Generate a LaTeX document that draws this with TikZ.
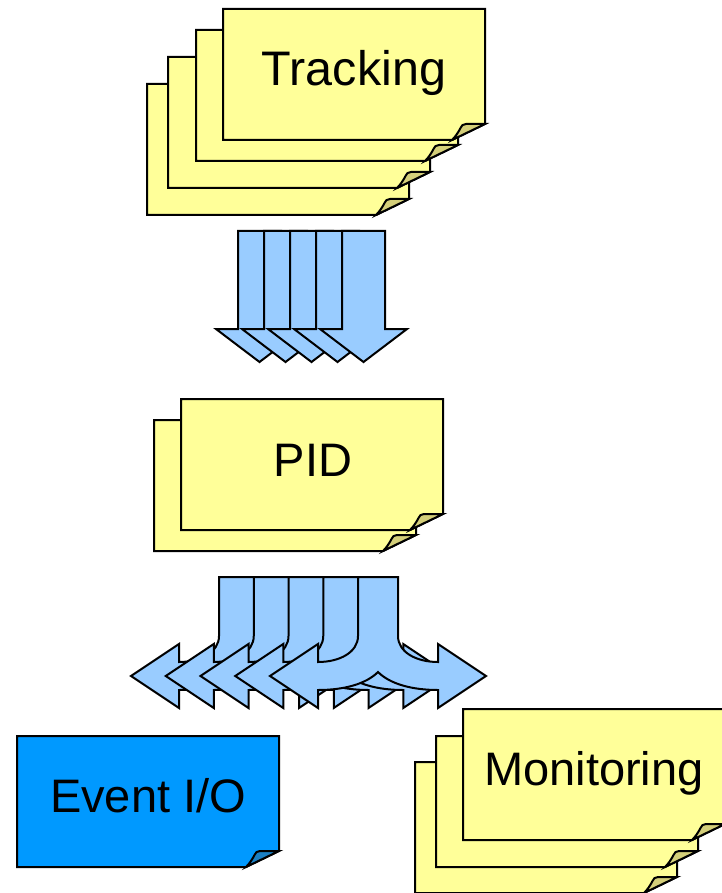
\documentclass[tikz,border=0pt]{standalone}
\usepackage{fontspec}
\setmainfont{Liberation Sans}
\usepackage{tikz}
\usetikzlibrary{positioning}
\definecolor{noteyellow}{HTML}{FFFF99}
\definecolor{notefold}{HTML}{D4CF7A}
\definecolor{ioblue}{HTML}{0099FF}
\definecolor{iofold}{HTML}{1A7FC4}
\definecolor{arrowblue}{HTML}{99CCFF}

\newcommand{\notesheet}[4]{%
  \filldraw[fill=#3] (#1,#2) -- (#1+262,#2) -- (#1+262,#2+115) -- (#1+229,#2+131) -- (#1,#2+131) -- cycle;
  \filldraw[fill=#4] (#1+229,#2+131) -- (#1+262,#2+115) -- (#1+243,#2+115)
    .. controls (#1+240,#2+115) and (#1+238.5,#2+116.5) .. (#1+237.5,#2+119)
    .. controls (#1+235,#2+124) and (#1+232,#2+128) .. (#1+229,#2+131) -- cycle;
}
\newcommand{\downblockarrow}[1]{%
  \filldraw[blockarrow] (#1-21.5,231) -- (#1-21.5,329) -- (#1-43.5,329) -- (#1,362)
    -- (#1+43.5,329) -- (#1+21.5,329) -- (#1+21.5,231) -- cycle;
}
\newcommand{\splitarrow}[1]{%
  \filldraw[blockarrow] (#1-20,577) -- (#1-20,636)
    .. controls (#1-20,652) and (#1-38,662) .. (#1-60,662) -- (#1-60,644) -- (#1-108,676)
    -- (#1-60,708) -- (#1-60,690)
    .. controls (#1-34,690) and (#1-12,684) .. (#1,672)
    .. controls (#1+12,684) and (#1+34,690) .. (#1+60,690) -- (#1+60,708) -- (#1+108,676)
    -- (#1+60,644) -- (#1+60,662)
    .. controls (#1+38,662) and (#1+20,652) .. (#1+20,636) -- (#1+20,577) -- cycle;
}

\begin{document}
\begin{tikzpicture}[x=1pt,y=-1pt,line width=2pt,line join=miter,
    blockarrow/.style={fill=arrowblue},
    notetext/.style={anchor=base,font=\fontsize{47}{52}\selectfont}]
		\useasboundingbox (0,0) rectangle (721,893);

		\foreach \x/\y in {147/84,168/57,196/30,223/9}
			\notesheet{\x}{\y}{noteyellow}{notefold};
		\node[notetext,font=\fontsize{48.5}{52}\selectfont] (tracking) at (354,86) {Tracking};

		\foreach \x in {259.5,285.5,311.5,337.5,363.5}
			\downblockarrow{\x};

		\foreach \x/\y in {154/420,181/399}
			\notesheet{\x}{\y}{noteyellow}{notefold};
		\node[notetext] (pid) at (313,476) {PID};

		\foreach \x in {239,273.75,308.5,343.25,378}
			\splitarrow{\x};

		\notesheet{17}{736}{ioblue}{iofold};
		\node[notetext] (eventio) at (148,812) {Event I/O};

		\foreach \x/\y in {415/762,436/736,463/709}
			\notesheet{\x}{\y}{noteyellow}{notefold};
		\node[notetext] (monitoring) at (594,785) {Monitoring};
\end{tikzpicture}
\end{document}
